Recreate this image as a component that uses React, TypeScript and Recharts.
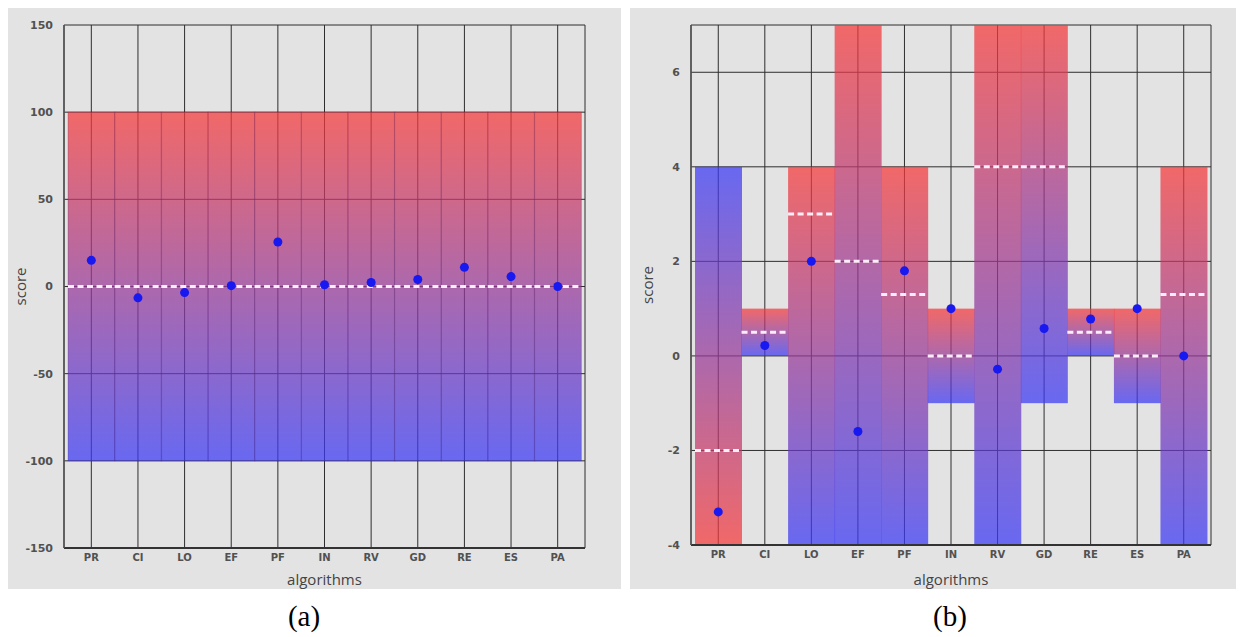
import { ComposedChart, Bar, Scatter, XAxis, YAxis, CartesianGrid, Label } from "recharts";

const algorithms = ["PR", "CI", "LO", "EF", "PF", "IN", "RV", "GD", "RE", "ES", "PA"];

// panel (a)
const lowA = [-100, -100, -100, -100, -100, -100, -100, -100, -100, -100, -100];
const highA = [100, 100, 100, 100, 100, 100, 100, 100, 100, 100, 100];
const baseA = [0, 0, 0, 0, 0, 0, 0, 0, 0, 0, 0];
const scoreA = [15, -6.5, -3.5, 0.5, 25.5, 1, 2.3, 4, 11, 5.7, 0];
const ticksA = [-150, -100, -50, 0, 50, 100, 150];

// panel (b)
const lowB = [-4, 0, -4, -4, -4, -1, -4, -1, 0, -1, -4];
const highB = [4, 1, 4, 7, 4, 1, 7, 7, 1, 1, 4];
const baseB = [-2, 0.5, 3, 2, 1.3, 0, 4, 4, 0.5, 0, 1.3];
const scoreB = [-3.3, 0.22, 2, -1.6, 1.8, 1, -0.28, 0.58, 0.78, 1, 0];
const invertedB = [true, false, false, false, false, false, false, false, false, false, false];
const ticksB = [-4, -2, 0, 2, 4, 6];

type Row = { name: string; low: number; high: number; base: number; score: number; inverted: boolean };

const rowsA: Row[] = algorithms.map((name, i) => ({
  name, low: lowA[i], high: highA[i], base: baseA[i], score: scoreA[i], inverted: false,
}));
const rowsB: Row[] = algorithms.map((name, i) => ({
  name, low: lowB[i], high: highB[i], base: baseB[i], score: scoreB[i], inverted: invertedB[i],
}));

const tickFont = { fontFamily: "DejaVu Sans", fontWeight: 700, fill: "#515151" };

const RangeBar = (props: any) => {
  const { x, y, width, height, payload, id, seam } = props;
  if (x == null || y == null) return null;
  const top = Math.min(y, y + height);
  const h = Math.abs(height);
  const span = payload.high - payload.low;
  const ym = span ? top + (h * (payload.high - payload.base)) / span : top;
  return (
    <g>
      <rect
        x={x}
        y={top}
        width={width}
        height={h}
        fill={`url(#${id}-${payload.inverted ? "down" : "up"})`}
        fillOpacity={0.72}
        stroke={seam ? "rgba(70,30,90,0.25)" : "none"}
        strokeWidth={seam ? 1 : 0}
      />
      <line x1={x} x2={x + width} y1={ym} y2={ym} stroke="#ffeefa" strokeWidth={3} strokeDasharray="6 3.5" />
    </g>
  );
};

const Dot = (props: any) => {
  const { cx, cy } = props;
  if (cx == null || cy == null) return null;
  return <circle cx={cx} cy={cy} r={4.5} fill="#1818f0" />;
};

const yTitle = (left: number) => (props: any) => {
  const vb = props.viewBox || {};
  const cy = vb.y + vb.height / 2;
  return (
    <text
      x={left}
      y={cy}
      transform={`rotate(-90 ${left} ${cy})`}
      textAnchor="middle"
      dominantBaseline="central"
      fontFamily="Open Sans"
      fontSize={15}
      fill="#444"
    >
      score
    </text>
  );
};

const ScorePanel = ({
  id, rows, domain, ticks, width, yWidth, xHeight, right, titleX, seam,
}: {
  id: string; rows: Row[]; domain: [number, number]; ticks: number[];
  width: number; yWidth: number; xHeight: number; right: number; titleX: number; seam: boolean;
}) => (
  <ComposedChart
    width={width}
    height={581}
    data={rows}
    margin={{ top: 17, right, bottom: 0, left: 0 }}
    barCategoryGap={0}
    barGap={0}
  >
    <defs>
      <linearGradient id={`${id}-up`} x1="0" y1="0" x2="0" y2="1">
        <stop offset="0%" stopColor="#f63939" />
        <stop offset="100%" stopColor="#3939f6" />
      </linearGradient>
      <linearGradient id={`${id}-down`} x1="0" y1="0" x2="0" y2="1">
        <stop offset="0%" stopColor="#3939f6" />
        <stop offset="100%" stopColor="#f63939" />
      </linearGradient>
    </defs>
    <CartesianGrid stroke="#2e2e2e" strokeWidth={1} />
    <XAxis
      dataKey="name"
      type="category"
      height={xHeight}
      padding={{ left: 4, right: 4 }}
      tickLine={false}
      tickSize={4}
      tick={{ ...tickFont, fontSize: 10 }}
      axisLine={{ stroke: "#333", strokeWidth: 2 }}
      label={{ value: "algorithms", position: "insideBottom", offset: 4, fill: "#444", fontSize: 15, fontFamily: "Open Sans" }}
    />
    <YAxis
      type="number"
      domain={domain}
      ticks={ticks}
      allowDataOverflow
      width={yWidth}
      tickLine={false}
      tickSize={9}
      tick={{ ...tickFont, fontSize: 11 }}
      axisLine={{ stroke: "#555", strokeWidth: 1.5 }}
    >
      <Label content={yTitle(titleX)} />
    </YAxis>
    <Bar
      dataKey={(d: Row) => [d.low, d.high]}
      shape={(p: any) => <RangeBar {...p} id={id} seam={seam} />}
      isAnimationActive={false}
    />
    <Scatter dataKey="score" shape={Dot} isAnimationActive={false} />
  </ComposedChart>
);

const caption = { position: "absolute" as const, width: 100, textAlign: "center" as const, fontFamily: "Liberation Serif", fontSize: 29, lineHeight: "32px", color: "#000" };

export default function App() {
  return (
    <div style={{ position: "relative", width: 1228, height: 629 }}>
      <div style={{ position: "absolute", left: 0, top: 0, width: 613, height: 581, background: "#e3e3e3" }}>
        <ScorePanel id="ga" rows={rowsA} domain={[-150, 150]} ticks={ticksA} width={613} yWidth={56} xHeight={41} right={36} titleX={12} seam />
      </div>
      <div style={{ position: "absolute", left: 622, top: 0, width: 614, height: 581, background: "#e3e3e3" }}>
        <ScorePanel id="gb" rows={rowsB} domain={[-4, 7]} ticks={ticksB} width={614} yWidth={61} xHeight={44} right={33} titleX={17} seam={false} />
      </div>
      <div style={{ ...caption, left: 246, top: 592 }}>(a)</div>
      <div style={{ ...caption, left: 892, top: 592 }}>(b)</div>
    </div>
  );
}
